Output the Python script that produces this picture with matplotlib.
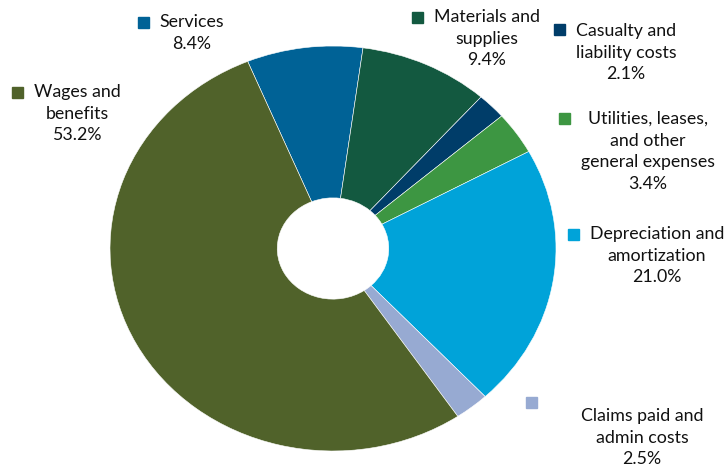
import matplotlib.pyplot as plt
from matplotlib.patches import Rectangle

# data
categories = ["Services", "Materials and\nsupplies", "Casualty and\nliability costs",
              "Utilities, leases,\nand other\ngeneral expenses", "Depreciation and\namortization",
              "Claims paid and\nadmin costs", "Wages and\nbenefits"]
shares = [8.4, 9.4, 2.1, 3.4, 21.0, 2.5, 53.2]
colors = ["#006296", "#135940", "#003D69", "#3D9642", "#00A3D9", "#97AAD2", "#50622A"]

W, H = 726, 475
plt.rcParams['font.family'] = ['Lato', 'DejaVu Sans']
fig = plt.figure(figsize=(W / 100, H / 100), dpi=100)

# pie is slightly squashed vertically in the original
ax = fig.add_axes([110 / W, (H - 451) / H, 446 / W, 405 / H])
ax.pie(shares, colors=colors, startangle=112.5, counterclock=False, radius=1,
       wedgeprops=dict(width=0.75, edgecolor='white', linewidth=0.4))
ax.set_aspect('auto')
ax.set_xlim(-1, 1)
ax.set_ylim(-1, 1)
ax.axis('off')


def px(x, y):
    return x / W, 1 - y / H


# label block: (marker left x, marker top y, text center x, first line y)
label_pos = [
    (138, 17, 192, 22),
    (412, 12, 487, 17),
    (554, 24, 626, 31),
    (559, 113, 648, 119),
    (568, 229, 657, 234),
    (526, 397, 642, 416),
    (12, 87, 77, 92),
]

for name, val, col, (mx, my, tx, ty) in zip(categories, shares, colors, label_pos):
    fig.patches.append(Rectangle(px(mx, my + 11), 11 / W, 11 / H, color=col,
                                 transform=fig.transFigure, figure=fig))
    lines = (name + f"\n{val:.1f}%").split("\n")
    for i, line in enumerate(lines):
        fig.text(*px(tx, ty + i * 21.7), line, ha='center', va='center',
                 fontsize=12.8, color='#111111')

fig.savefig("out.png", dpi=100)
